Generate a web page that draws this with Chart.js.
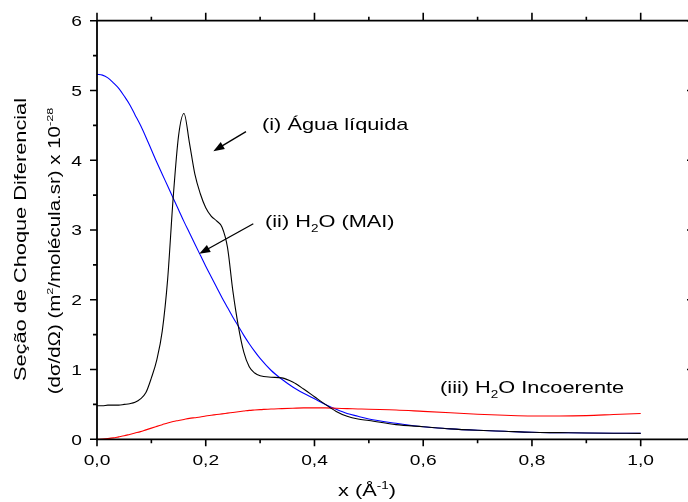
<!DOCTYPE html>
<html>
<head>
<meta charset="utf-8">
<script src="https://cdn.jsdelivr.net/npm/chart.js@4.4.1/dist/chart.umd.min.js"></script>
<style>
  body { margin: 0; background: #fff; }
  #wrap { width: 688px; height: 502px; position: relative; }
</style>
</head>
<body>
<div id="wrap"><canvas id="chart"></canvas></div>
<script>
// x (Å^-1)
const xValues = [
  0.00, 0.01, 0.02, 0.03, 0.04, 0.05, 0.06, 0.07, 0.08, 0.09,
  0.10, 0.11, 0.12, 0.13, 0.14, 0.15, 0.16, 0.17, 0.18, 0.19,
  0.20, 0.21, 0.22, 0.23, 0.24, 0.25, 0.26, 0.27, 0.28, 0.29, 0.30,
  0.32, 0.34, 0.36, 0.38, 0.40, 0.42, 0.44, 0.46, 0.48, 0.50,
  0.55, 0.60, 0.65, 0.70, 0.75, 0.80, 0.85, 0.90, 0.95, 1.00
];

// (i) Água líquida
const aguaLiquida = [
  0.48, 0.48, 0.49, 0.49, 0.49, 0.50, 0.51, 0.53, 0.58, 0.67,
  0.88, 1.14, 1.55, 2.30, 3.45, 4.35, 4.67, 4.25, 3.80, 3.52,
  3.32, 3.20, 3.13, 3.04, 2.75, 2.12, 1.62, 1.25, 1.04, 0.95, 0.91,
  0.89, 0.88, 0.82, 0.72, 0.61, 0.50, 0.40, 0.33, 0.29, 0.27,
  0.21, 0.18, 0.15, 0.13, 0.115, 0.10, 0.095, 0.09, 0.087, 0.085
];

// (ii) H2O (MAI)
const h2oMAI = [
  5.23, 5.22, 5.18, 5.11, 5.03, 4.92, 4.80, 4.65, 4.50, 4.33,
  4.15, 3.97, 3.80, 3.63, 3.46, 3.29, 3.12, 2.96, 2.80, 2.64,
  2.48, 2.33, 2.18, 2.03, 1.89, 1.75, 1.62, 1.49, 1.37, 1.26, 1.16,
  0.99, 0.86, 0.75, 0.66, 0.58, 0.50, 0.43, 0.37, 0.33, 0.29,
  0.23, 0.18, 0.15, 0.13, 0.115, 0.10, 0.095, 0.09, 0.087, 0.085
];

// (iii) H2O Incoerente
const h2oIncoerente = [
  0.00, 0.003, 0.01, 0.02, 0.035, 0.05, 0.07, 0.09, 0.11, 0.135,
  0.16, 0.185, 0.21, 0.235, 0.255, 0.27, 0.285, 0.30, 0.31, 0.32,
  0.335, 0.345, 0.355, 0.365, 0.375, 0.385, 0.395, 0.405, 0.415, 0.42, 0.425,
  0.435, 0.44, 0.445, 0.45, 0.45, 0.45, 0.445, 0.44, 0.435, 0.43,
  0.42, 0.40, 0.38, 0.36, 0.345, 0.335, 0.335, 0.34, 0.355, 0.37
];

const xTicks = [0, 0.2, 0.4, 0.6, 0.8, 1.0];
const xMinorTicks = [0.1, 0.3, 0.5, 0.7, 0.9];
const yTicks = [0, 1, 2, 3, 4, 5, 6];
const yMinorTicks = [0.5, 1.5, 2.5, 3.5, 4.5, 5.5];

// texto: [texto, 0 normal | 1 subscrito | -1 sobrescrito]
const labelAgua = [['(i) Água líquida', 0]];
const labelMAI = [['(ii) H', 0], ['2', 1], ['O (MAI)', 0]];
const labelIncoerente = [['(iii) H', 0], ['2', 1], ['O Incoerente', 0]];
const xTitle = [['x (Å', 0], ['-1', -1], [')', 0]];
const yTitle1 = [['Seção de Choque Diferencial', 0]];
const yTitle2 = [['(dσ/dΩ) (m', 0], ['2', -1], ['/molécula.sr) x 10', 0], ['-28', -1]];

const FONT = '"Liberation Sans", Arial, sans-serif';
const SX = 1.28; // as letras do original são mais largas

const toPoints = (ys) => xValues.map((x, i) => ({ x: x, y: ys[i] }));

function richWidth(ctx, segs, size) {
  let w = 0;
  segs.forEach(([t, k]) => {
    const s = k ? size * 0.62 : size;
    ctx.font = s + 'px ' + FONT;
    w += ctx.measureText(t).width;
  });
  return w;
}

// desenha texto com sub/sobrescritos, esticado na horizontal
function rich(ctx, segs, x, y, size, align) {
  ctx.save();
  ctx.translate(x, y);
  ctx.scale(SX, 1);
  const w = richWidth(ctx, segs, size);
  let cx = align === 'center' ? -w / 2 : align === 'right' ? -w : 0;
  ctx.textAlign = 'left';
  ctx.textBaseline = 'alphabetic';
  ctx.fillStyle = '#000';
  segs.forEach(([t, k]) => {
    const s = k ? size * 0.62 : size;
    ctx.font = s + 'px ' + FONT;
    const dy = k === 1 ? size * 0.3 : k === -1 ? -size * 0.42 : 0;
    ctx.fillText(t, cx, dy);
    cx += ctx.measureText(t).width;
  });
  ctx.restore();
}

function arrow(ctx, x1, y1, x2, y2) {
  const ang = Math.atan2(y2 - y1, x2 - x1);
  const len = 11, half = 4;
  ctx.save();
  ctx.strokeStyle = '#000';
  ctx.fillStyle = '#000';
  ctx.lineWidth = 1.3;
  ctx.beginPath();
  ctx.moveTo(x1, y1);
  ctx.lineTo(x2 - Math.cos(ang) * len * 0.8, y2 - Math.sin(ang) * len * 0.8);
  ctx.stroke();
  ctx.beginPath();
  ctx.moveTo(x2, y2);
  ctx.lineTo(x2 - Math.cos(ang) * len + Math.sin(ang) * half, y2 - Math.sin(ang) * len - Math.cos(ang) * half);
  ctx.lineTo(x2 - Math.cos(ang) * len - Math.sin(ang) * half, y2 - Math.sin(ang) * len + Math.cos(ang) * half);
  ctx.closePath();
  ctx.fill();
  ctx.restore();
}

const framePlugin = {
  id: 'frame',
  afterDraw(chart) {
    const { ctx, chartArea: a, scales } = chart;
    const xs = scales.x, ys = scales.y;
    ctx.save();
    ctx.strokeStyle = '#000';
    ctx.lineWidth = 1.8;
    ctx.beginPath();
    ctx.moveTo(a.left, a.top); ctx.lineTo(a.right + 2, a.top);
    ctx.moveTo(a.left, a.top); ctx.lineTo(a.left, a.bottom);
    ctx.moveTo(a.left - 1, a.bottom); ctx.lineTo(a.right + 2, a.bottom);
    ctx.stroke();

    ctx.lineWidth = 1.6;
    ctx.beginPath();
    xTicks.forEach(v => {
      const px = xs.getPixelForValue(v);
      ctx.moveTo(px, a.bottom); ctx.lineTo(px, a.bottom + 7);
      ctx.moveTo(px, a.top); ctx.lineTo(px, a.top - 8);
    });
    xMinorTicks.forEach(v => {
      const px = xs.getPixelForValue(v);
      ctx.moveTo(px, a.bottom); ctx.lineTo(px, a.bottom + 4);
      ctx.moveTo(px, a.top); ctx.lineTo(px, a.top - 4);
    });
    yTicks.forEach(v => {
      const py = ys.getPixelForValue(v);
      ctx.moveTo(a.left, py); ctx.lineTo(a.left - 7, py);
      ctx.moveTo(a.right - 1, py); ctx.lineTo(a.right + 2, py);
    });
    yMinorTicks.forEach(v => {
      const py = ys.getPixelForValue(v);
      ctx.moveTo(a.left, py); ctx.lineTo(a.left - 4, py);
    });
    ctx.stroke();
    ctx.restore();

    // rótulos dos eixos
    yTicks.forEach(v => {
      rich(ctx, [[String(v), 0]], 82, ys.getPixelForValue(v) + 5.4, 15, 'right');
    });
    xTicks.forEach(v => {
      rich(ctx, [[v.toFixed(1).replace('.', ','), 0]], xs.getPixelForValue(v), 465, 15, 'center');
    });
    rich(ctx, xTitle, 367, 496, 17, 'center');

    ctx.save();
    ctx.translate(25.5, 239.5);
    ctx.rotate(-Math.PI / 2);
    rich(ctx, yTitle1, 0, 0, 17, 'center');
    ctx.restore();
    ctx.save();
    ctx.translate(60, 251);
    ctx.rotate(-Math.PI / 2);
    rich(ctx, yTitle2, 0, 0, 16, 'center');
    ctx.restore();

    // anotações
    rich(ctx, labelAgua, xs.getPixelForValue(0.3035), ys.getPixelForValue(4.435), 17, 'left');
    rich(ctx, labelMAI, xs.getPixelForValue(0.309), ys.getPixelForValue(3.04), 17, 'left');
    rich(ctx, labelIncoerente, xs.getPixelForValue(0.631), ys.getPixelForValue(0.66), 17, 'left');

    arrow(ctx, xs.getPixelForValue(0.274), ys.getPixelForValue(4.41),
               xs.getPixelForValue(0.214), ys.getPixelForValue(4.13));
    arrow(ctx, xs.getPixelForValue(0.2875), ys.getPixelForValue(3.09),
               xs.getPixelForValue(0.188), ys.getPixelForValue(2.66));
  }
};

const lineStyle = (color) => ({
  borderColor: color,
  backgroundColor: color,
  borderWidth: 1.1,
  pointRadius: 0,
  showLine: true,
  cubicInterpolationMode: 'monotone',
  fill: false
});

new Chart(document.getElementById('chart'), {
  type: 'scatter',
  data: {
    datasets: [
      { label: '(i) Água líquida', data: toPoints(aguaLiquida), ...lineStyle('#000000') },
      { label: '(iii) H2O Incoerente', data: toPoints(h2oIncoerente), ...lineStyle('#ff0000') },
      { label: '(ii) H2O (MAI)', data: toPoints(h2oMAI), ...lineStyle('#0000ff') }
    ]
  },
  options: {
    responsive: true,
    maintainAspectRatio: false,
    animation: false,
    layout: { padding: { top: 20.7, right: 0, left: 0, bottom: 0 } },
    plugins: {
      legend: { display: false },
      tooltip: { enabled: false }
    },
    scales: {
      x: {
        type: 'linear',
        min: 0,
        max: 1.087,
        grid: { display: false, drawTicks: false },
        border: { display: false },
        ticks: { display: false },
        afterFit: (scale) => { scale.height = 62.7; }
      },
      y: {
        type: 'linear',
        min: 0,
        max: 6,
        grid: { display: false, drawTicks: false },
        border: { display: false },
        ticks: { display: false },
        afterFit: (scale) => { scale.width = 97; }
      }
    }
  },
  plugins: [framePlugin]
});
</script>
</body>
</html>
